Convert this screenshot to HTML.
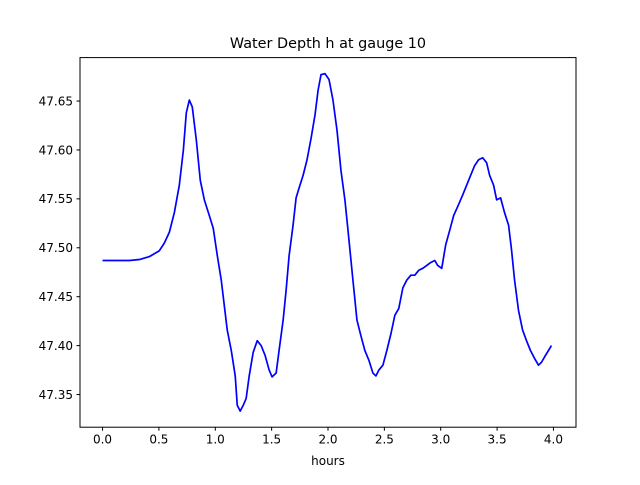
<!DOCTYPE html>
<html><head><meta charset="utf-8"><style>
body{margin:0;background:#fff}
svg text{font-family:"DejaVu Sans","Liberation Sans",sans-serif;fill:#000}
</style></head><body>
<svg id="chart" width="640" height="480" viewBox="0 0 640 480" xmlns="http://www.w3.org/2000/svg">
<rect width="640" height="480" fill="#fff"/>
<text x="328" y="48" font-size="14.4" text-anchor="middle">Water Depth h at gauge 10</text>
<g id="plot"></g>
<rect x="80" y="57.6" width="496" height="369.6" fill="none" stroke="#000" stroke-width="1"/>
<text x="328" y="465" font-size="12" text-anchor="middle">hours</text>
</svg>
<script>
const hours=[0,0.239,0.327,0.416,0.504,0.549,0.593,0.637,0.681,0.717,0.743,0.770,0.796,0.832,0.867,0.903,0.947,0.982,1.018,1.053,1.080,1.106,1.142,1.177,1.195,1.221,1.248,1.274,1.301,1.336,1.372,1.407,1.442,1.478,1.504,1.540,1.566,1.602,1.628,1.655,1.690,1.717,1.743,1.779,1.814,1.850,1.885,1.912,1.938,1.973,2.009,2.044,2.080,2.115,2.150,2.186,2.221,2.257,2.292,2.327,2.363,2.398,2.425,2.451,2.487,2.522,2.558,2.593,2.628,2.664,2.699,2.735,2.770,2.805,2.841,2.876,2.912,2.947,2.973,3.009,3.044,3.080,3.115,3.150,3.195,3.230,3.265,3.301,3.336,3.372,3.407,3.434,3.469,3.496,3.531,3.566,3.602,3.628,3.655,3.690,3.726,3.761,3.796,3.832,3.867,3.894,3.929,3.956,3.982];
const depth=[47.487,47.487,47.488,47.491,47.497,47.505,47.516,47.536,47.564,47.600,47.638,47.651,47.644,47.610,47.569,47.549,47.533,47.520,47.492,47.467,47.441,47.416,47.395,47.369,47.339,47.333,47.339,47.346,47.369,47.393,47.405,47.400,47.390,47.375,47.368,47.372,47.395,47.426,47.456,47.492,47.523,47.551,47.561,47.574,47.590,47.612,47.636,47.661,47.677,47.678,47.672,47.651,47.620,47.579,47.549,47.508,47.467,47.426,47.410,47.395,47.385,47.372,47.369,47.375,47.380,47.395,47.412,47.431,47.438,47.459,47.467,47.472,47.472,47.477,47.479,47.482,47.485,47.487,47.482,47.479,47.503,47.518,47.533,47.542,47.554,47.564,47.574,47.584,47.590,47.592,47.587,47.574,47.564,47.549,47.551,47.536,47.523,47.498,47.467,47.436,47.416,47.405,47.395,47.387,47.380,47.383,47.390,47.395,47.400];
const xTicks=[0,0.5,1,1.5,2,2.5,3,3.5,4];
const yTicks=[47.35,47.40,47.45,47.50,47.55,47.60,47.65];
const L=80,R=576,T=57.6,B=427.2,xmin=-0.2,xmax=4.2,ymin=47.3166,ymax=47.6944;
const sx=v=>L+(v-xmin)/(xmax-xmin)*(R-L);
const sy=v=>B-(v-ymin)/(ymax-ymin)*(B-T);
const NS="http://www.w3.org/2000/svg",g=document.getElementById('plot');
function mk(t,a){const e=document.createElementNS(NS,t);for(const k in a)e.setAttribute(k,a[k]);g.appendChild(e);return e;}
xTicks.forEach(v=>{
 const l=mk('line',{x1:sx(v),x2:sx(v),y1:B,y2:B+3.5,stroke:'#000'});
 
 
 const t=mk('text',{x:sx(v),y:B+16.5,'font-size':12,'text-anchor':'middle'});t.textContent=v.toFixed(1);
 
 
});
yTicks.forEach(v=>{
 const l=mk('line',{x1:L-3.5,x2:L,y1:sy(v),y2:sy(v),stroke:'#000'});
 
 
 const t=mk('text',{x:L-7,y:sy(v)+4.3,'font-size':12,'text-anchor':'end'});t.textContent=v.toFixed(2);
 
 
});
const p=mk('polyline',{points:hours.map((h,i)=>sx(h)+','+sy(depth[i])).join(' '),fill:'none',stroke:'#0000ff','stroke-width':1.7,'stroke-linejoin':'round'});


</script>
</body></html>
